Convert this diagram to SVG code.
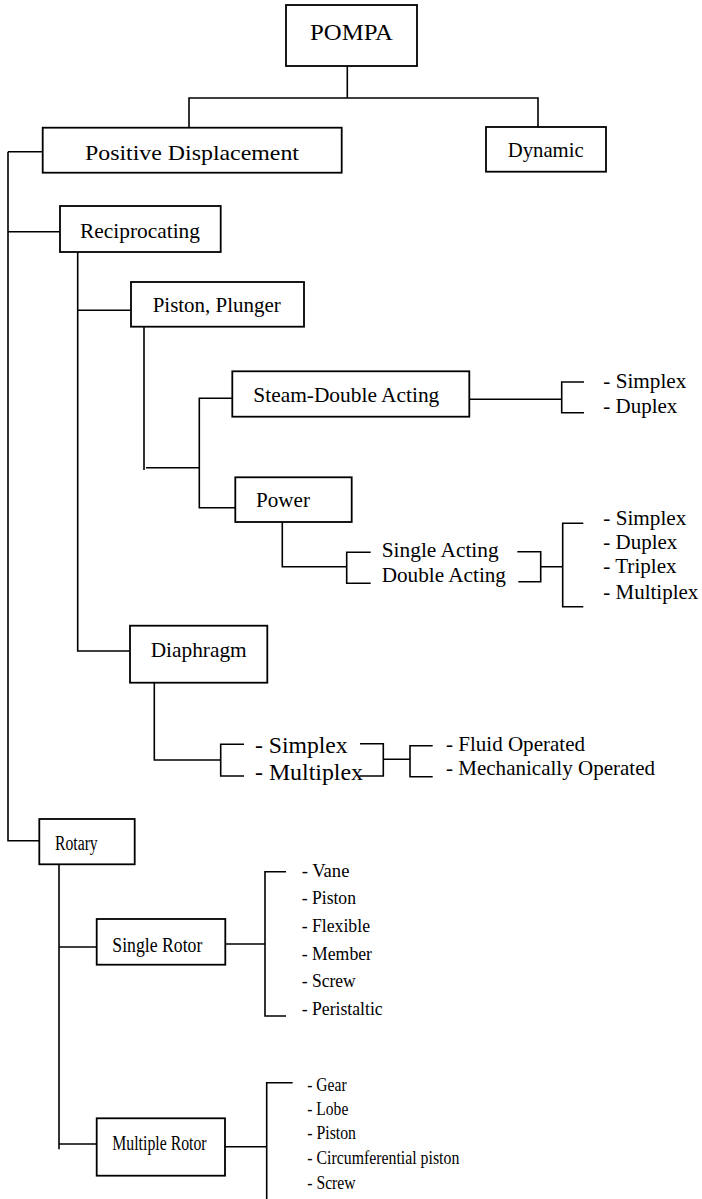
<svg xmlns="http://www.w3.org/2000/svg" width="702" height="1199" viewBox="0 0 702 1199">
  <style>
    .box { fill: #ffffff; stroke: #000000; stroke-width: 1.8; }
    .wire { fill: none; stroke: #000000; stroke-width: 1.6; }
    text { font-family: "Liberation Serif", "Times New Roman", serif; fill: #000000; }
    .t21 { font-size: 21px; }
  </style>
  <rect width="702" height="1199" fill="#ffffff"/>

  <!-- connectors -->
  <g id="connectors" class="wire">
    <path d="M347.3 66 V98 M189 128 V98 H538 V127"/>
    <path d="M8 151.7 H42.7 M8 151.7 V840.7 H39.3 M8 231.7 H60"/>
    <path d="M77.7 252 V651 H130 M77.7 310.3 H131"/>
    <path d="M144 326.7 V470 M146 467.7 H199.3 M232.3 398.3 H199.3 V507.7 H235.3"/>
    <path d="M469.3 399.3 H561.7 M584 382 H561.7 V412.7 H584"/>
    <path d="M282.3 522 V566.7 H346.7 M370.7 552.3 H346.7 V583.3 H370.7"/>
    <path d="M517.3 551.7 H540.7 V581.7 H518.3 M540.7 566.7 H562.7 M583.3 523.3 H562.7 V606.7 H583.3"/>
    <path d="M154.3 682.7 V760 H220.7 M244 744.3 H220.7 V776 H244"/>
    <path d="M360 743.7 H383.3 V776 H359.3 M383.3 759.3 H410 M432.7 745.7 H410 V776.7 H432.7"/>
    <path d="M59 864.3 V1149.3 M59 947 H96.7 M59 1144 H96.7"/>
    <path d="M225.3 944 H265 M286 871.7 H265 V1016 H286"/>
    <path d="M225 1146.7 H266.7 M292.7 1082.7 H266.7 V1199"/>
  </g>

  <!-- nodes -->
  <g id="pompa">
    <rect class="box" x="286" y="5" width="131" height="61"/>
    <text x="310" y="39.5" font-size="23" textLength="83" lengthAdjust="spacingAndGlyphs">POMPA</text>
  </g>
  <g id="positive-displacement">
    <rect class="box" x="42.7" y="127.7" width="299" height="45"/>
    <text x="85" y="160" font-size="22" textLength="214" lengthAdjust="spacingAndGlyphs">Positive Displacement</text>
  </g>
  <g id="dynamic">
    <rect class="box" x="486" y="127" width="120" height="44.7"/>
    <text x="507.7" y="157.3" font-size="21" textLength="76" lengthAdjust="spacingAndGlyphs">Dynamic</text>
  </g>
  <g id="reciprocating">
    <rect class="box" x="60" y="206" width="160.7" height="46"/>
    <text x="80" y="238.3" font-size="21" textLength="120" lengthAdjust="spacingAndGlyphs">Reciprocating</text>
  </g>
  <g id="piston-plunger">
    <rect class="box" x="131" y="282" width="173" height="44.7"/>
    <text x="152.7" y="312" font-size="21" textLength="128" lengthAdjust="spacingAndGlyphs">Piston, Plunger</text>
  </g>
  <g id="steam-double-acting">
    <rect class="box" x="232.3" y="371.3" width="237" height="45.4"/>
    <text x="253.3" y="401.7" font-size="21" textLength="186" lengthAdjust="spacingAndGlyphs">Steam-Double Acting</text>
  </g>
  <g id="steam-types" class="t21">
    <text x="603.3" y="388.3" textLength="83" lengthAdjust="spacingAndGlyphs">- Simplex</text>
    <text x="603.3" y="412.7" textLength="74" lengthAdjust="spacingAndGlyphs">- Duplex</text>
  </g>
  <g id="power">
    <rect class="box" x="235.3" y="477.3" width="116.4" height="44.7"/>
    <text x="256" y="507" font-size="21" textLength="54" lengthAdjust="spacingAndGlyphs">Power</text>
  </g>
  <g id="power-acting" class="t21">
    <text x="381.7" y="556.7" textLength="117" lengthAdjust="spacingAndGlyphs">Single Acting</text>
    <text x="381.7" y="581.7" textLength="124.3" lengthAdjust="spacingAndGlyphs">Double Acting</text>
  </g>
  <g id="power-types" class="t21">
    <text x="603.3" y="525" textLength="83" lengthAdjust="spacingAndGlyphs">- Simplex</text>
    <text x="603.3" y="549.3" textLength="74" lengthAdjust="spacingAndGlyphs">- Duplex</text>
    <text x="603.3" y="573.3" textLength="73.3" lengthAdjust="spacingAndGlyphs">- Triplex</text>
    <text x="603.3" y="599" textLength="95" lengthAdjust="spacingAndGlyphs">- Multiplex</text>
  </g>
  <g id="diaphragm">
    <rect class="box" x="130" y="625.7" width="137.3" height="57"/>
    <text x="150.7" y="656.7" font-size="21" textLength="96" lengthAdjust="spacingAndGlyphs">Diaphragm</text>
  </g>
  <g id="diaphragm-types" font-size="24">
    <text x="255" y="753.3" textLength="92.7" lengthAdjust="spacingAndGlyphs">- Simplex</text>
    <text x="255" y="780" textLength="108" lengthAdjust="spacingAndGlyphs">- Multiplex</text>
  </g>
  <g id="diaphragm-operation" class="t21">
    <text x="446" y="750.7" textLength="139" lengthAdjust="spacingAndGlyphs">- Fluid Operated</text>
    <text x="446" y="775" textLength="209" lengthAdjust="spacingAndGlyphs">- Mechanically Operated</text>
  </g>
  <g id="rotary">
    <rect class="box" x="39.3" y="819" width="95.4" height="45.3"/>
    <text x="55" y="850" font-size="20" textLength="42.7" lengthAdjust="spacingAndGlyphs">Rotary</text>
  </g>
  <g id="single-rotor">
    <rect class="box" x="96.7" y="919" width="128.6" height="45.7"/>
    <text x="112.3" y="951.7" font-size="22" textLength="90" lengthAdjust="spacingAndGlyphs">Single Rotor</text>
  </g>
  <g id="single-rotor-types" font-size="19">
    <text x="301.7" y="877.3" textLength="47.7" lengthAdjust="spacingAndGlyphs">- Vane</text>
    <text x="301.7" y="904.3" textLength="54.3" lengthAdjust="spacingAndGlyphs">- Piston</text>
    <text x="301.7" y="932.3" textLength="68.3" lengthAdjust="spacingAndGlyphs">- Flexible</text>
    <text x="301.7" y="960" textLength="70.3" lengthAdjust="spacingAndGlyphs">- Member</text>
    <text x="301.7" y="987.3" textLength="54" lengthAdjust="spacingAndGlyphs">- Screw</text>
    <text x="301.7" y="1015" textLength="81" lengthAdjust="spacingAndGlyphs">- Peristaltic</text>
  </g>
  <g id="multiple-rotor">
    <rect class="box" x="96.7" y="1118.3" width="128.3" height="57.4"/>
    <text x="112.3" y="1150" font-size="20" textLength="94.3" lengthAdjust="spacingAndGlyphs">Multiple Rotor</text>
  </g>
  <g id="multiple-rotor-types" font-size="18">
    <text x="307.3" y="1090.7" textLength="39.3" lengthAdjust="spacingAndGlyphs">- Gear</text>
    <text x="307.3" y="1115" textLength="41" lengthAdjust="spacingAndGlyphs">- Lobe</text>
    <text x="307.3" y="1139.3" textLength="48.7" lengthAdjust="spacingAndGlyphs">- Piston</text>
    <text x="307.3" y="1164" textLength="152" lengthAdjust="spacingAndGlyphs">- Circumferential piston</text>
    <text x="307.3" y="1189.3" textLength="48.3" lengthAdjust="spacingAndGlyphs">- Screw</text>
  </g>
</svg>
